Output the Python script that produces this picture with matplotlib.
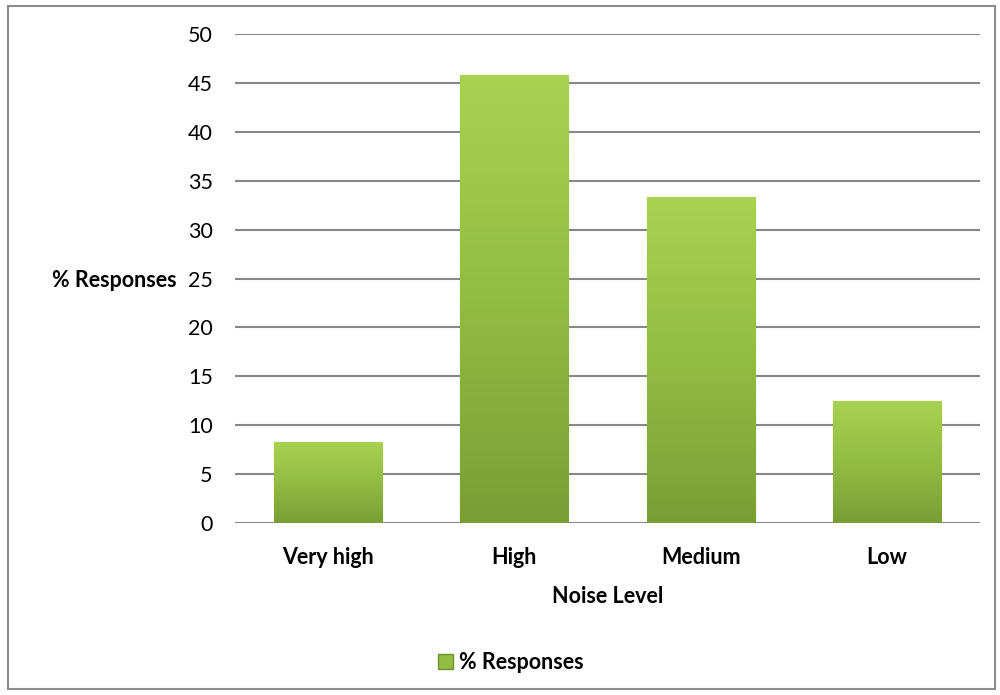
import numpy as np
import matplotlib.pyplot as plt
from matplotlib.colors import LinearSegmentedColormap
from matplotlib.patches import Rectangle

categories = ['Very high', 'High', 'Medium', 'Low']
responses = [8.33, 45.83, 33.33, 12.5]
y_ticks = [0, 5, 10, 15, 20, 25, 30, 35, 40, 45, 50]

plt.rcParams['font.family'] = ['Lato', 'DejaVu Sans']
FS = 15.5

fig = plt.figure(figsize=(10, 6.95), dpi=100)
ax = fig.add_axes([0.235, 1 - 523 / 695, 0.745, (523 - 34) / 695])

# outer chart border
fig.patches.append(Rectangle((0.008, 0.008), 0.987, 0.984, transform=fig.transFigure,
                             fill=False, edgecolor='#8c8c8c', linewidth=1.5))

green = LinearSegmentedColormap.from_list('g', ['#7a9e36', '#93bc44', '#a9d152'])
x = np.arange(len(categories))
bars = ax.bar(x, responses, width=0.58, color='#9dc64a', edgecolor='#86ab3d',
              linewidth=0.8, zorder=3)

grad = np.linspace(0, 1, 100).reshape(-1, 1)
for b in bars:
    x0, y0 = b.get_x(), b.get_y()
    w, h = b.get_width(), b.get_height()
    im = ax.imshow(grad, cmap=green, origin='lower', aspect='auto',
                   extent=[x0, x0 + w, y0, y0 + h], zorder=3.5)
    im.set_clip_path(b)

ax.set_xlim(-0.5, len(categories) - 0.5)
ax.set_ylim(0, 50)
ax.set_yticks(y_ticks)
ax.yaxis.grid(True, color='#878787', linewidth=1.5)
ax.set_axisbelow(True)
for s in ax.spines.values():
    s.set_visible(False)
ax.tick_params(length=0, labelsize=FS)
ax.tick_params(axis='y', pad=16)
ax.set_xticks(x)
ax.set_xticklabels(categories, fontweight='bold')
ax.tick_params(axis='x', pad=17)

ax.set_xlabel('Noise Level', fontsize=FS, fontweight='bold', labelpad=13)
ax.set_ylabel('% Responses', fontsize=FS, fontweight='bold', rotation=0,
              ha='right', va='center')
ax.yaxis.set_label_coords(-0.078, 0.495)

ax.legend([Rectangle((0, 0), 1, 1, facecolor='#93bc44', edgecolor='#6f9030')],
          ['% Responses'], loc='center', bbox_to_anchor=(0.37, -0.286),
          frameon=False, prop={'weight': 'bold', 'size': FS},
          handlelength=0.7, handleheight=0.7, handletextpad=0.3)

fig.savefig('out.png', dpi=100)
